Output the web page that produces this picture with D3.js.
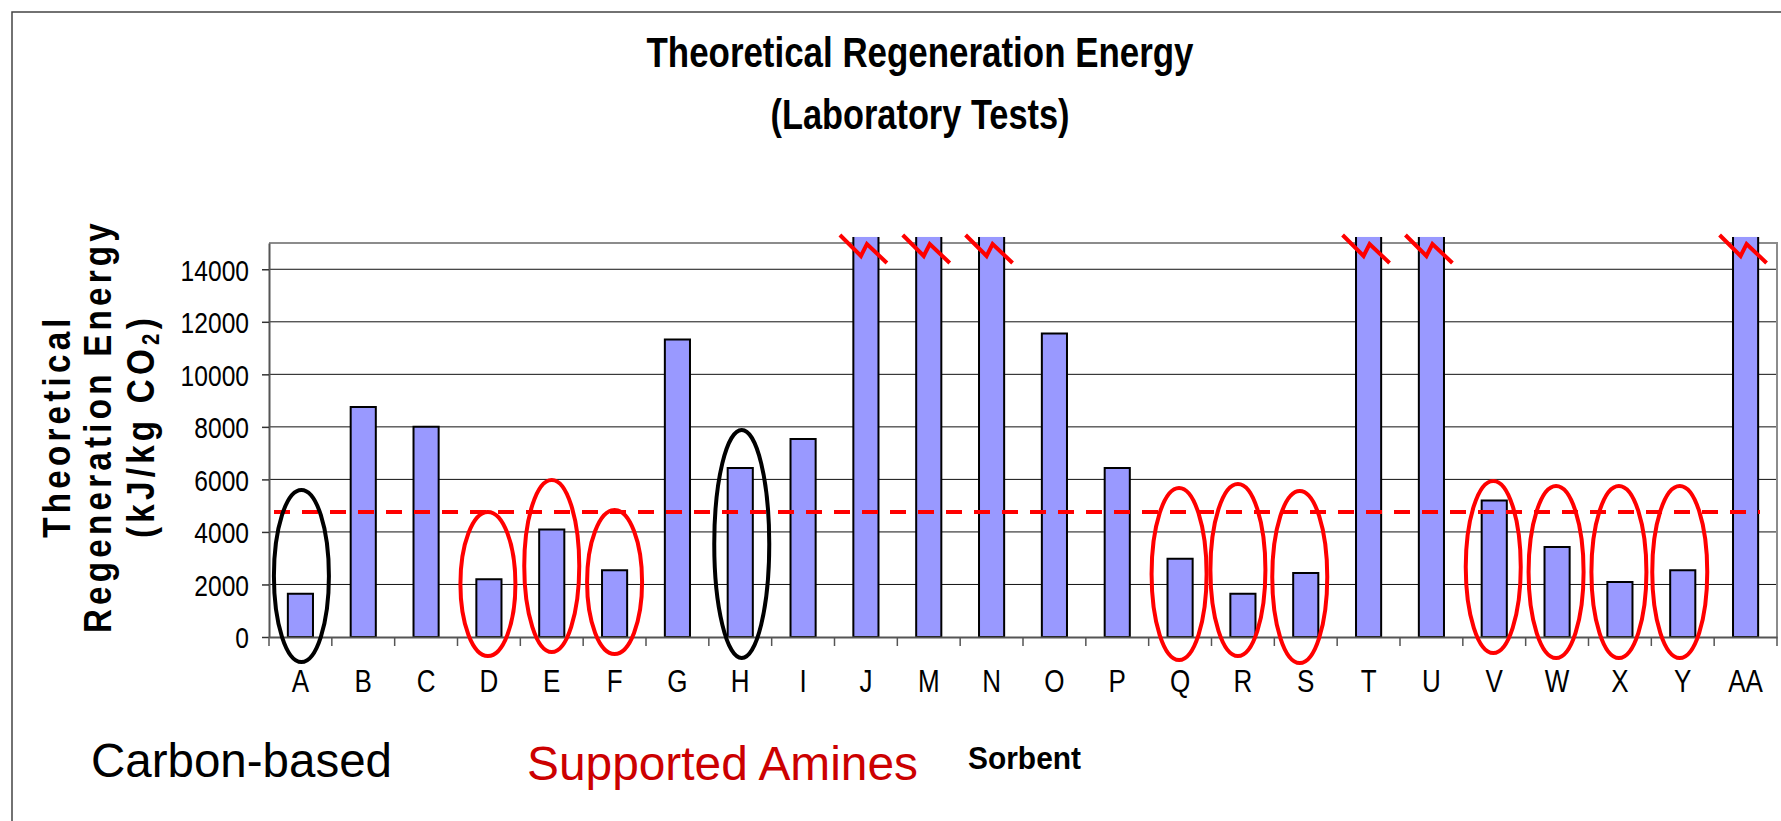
<!DOCTYPE html>
<html>
<head>
<meta charset="utf-8">
<script src="https://cdn.jsdelivr.net/npm/d3@7"></script>
<style>
  body { margin: 0; background: #fff; }
  svg { display: block; font-family: "Liberation Sans", Arial, sans-serif; }
</style>
</head>
<body>
<script>
// Theoretical regeneration energy per sorbent (kJ/kg CO2), laboratory tests
var categories = ['A', 'B', 'C', 'D', 'E', 'F', 'G', 'H', 'I', 'J', 'M', 'N',
                  'O', 'P', 'Q', 'R', 'S', 'T', 'U', 'V', 'W', 'X', 'Y', 'AA'];
// off-scale bars (J, M, N, T, U, AA) are drawn just past the top and cut with a break mark
var energy = [1650, 8760, 8000, 2200, 4090, 2540, 11330, 6430, 7540, 15230, 15230, 15230,
              11550, 6430, 2980, 1650, 2440, 15230, 15230, 5200, 3430, 2090, 2540, 15230];
var brokenBars = ['J', 'M', 'N', 'T', 'U', 'AA'];
var yTicks = [0, 2000, 4000, 6000, 8000, 10000, 12000, 14000];
var yMax = 15000;
var referenceLevel = 4760;
var carbonBased = ['A', 'H'];
var supportedAmines = ['D', 'E', 'F', 'Q', 'R', 'S', 'V', 'W', 'X', 'Y'];

var w = 1781;
var h = 821;
var plot = {left: 269, right: 1777, top: 243, bottom: 637};
var narrow = 0.85;

var svg = d3.select('body')
            .append('svg')
            .attr('width', w)
            .attr('height', h);

// outer frame (only top and left edges show)
svg.append('rect')
   .attr('x', 12).attr('y', 12)
   .attr('width', w).attr('height', h)
   .attr('fill', 'none')
   .attr('stroke', '#444')
   .attr('stroke-width', 1.5);

var x = d3.scaleBand()
          .domain(categories)
          .range([plot.left, plot.right])
          .paddingInner(0.6)
          .paddingOuter(0.3);
var y = d3.scaleLinear()
          .domain([0, yMax])
          .range([plot.bottom, plot.top]);

// gridlines
svg.append('g')
   .selectAll('line')
   .data(yTicks.slice(1))
   .enter()
   .append('line')
   .attr('x1', plot.left).attr('x2', plot.right)
   .attr('y1', function(d) { return y(d); })
   .attr('y2', function(d) { return y(d); })
   .attr('stroke', '#111')
   .attr('stroke-width', 1);

// top and right plot border
svg.append('path')
   .attr('d', 'M' + plot.left + ',' + y(yMax) + 'H' + plot.right + 'V' + plot.bottom)
   .attr('fill', 'none')
   .attr('stroke', '#8c8c8c')
   .attr('stroke-width', 2);

// bars: fill, then outline (broken bars have an open top)
var bars = svg.append('g')
   .selectAll('g')
   .data(categories)
   .enter()
   .append('g');
bars.append('rect')
   .attr('x', function(d) { return x(d); })
   .attr('y', function(d, i) { return y(energy[i]); })
   .attr('width', x.bandwidth())
   .attr('height', function(d, i) { return y(0) - y(energy[i]); })
   .attr('fill', '#9999ff');
bars.append('path')
   .attr('d', function(d, i) {
        var x0 = x(d), x1 = x(d) + x.bandwidth(), top = y(energy[i]), base = y(0);
        if (brokenBars.indexOf(d) >= 0) {
            return 'M' + x0 + ',' + top + 'V' + base + 'H' + x1 + 'V' + top;
        }
        return 'M' + x0 + ',' + base + 'V' + top + 'H' + x1 + 'V' + base + 'Z';
   })
   .attr('fill', 'none')
   .attr('stroke', '#000')
   .attr('stroke-width', 2);

// dashed reference level
svg.append('line')
   .attr('x1', plot.left + 5).attr('x2', plot.right - 17)
   .attr('y1', y(referenceLevel)).attr('y2', y(referenceLevel))
   .attr('stroke', '#ff0000')
   .attr('stroke-width', 4)
   .attr('stroke-dasharray', '16,12');

// y axis
var yAxis = svg.append('g')
   .attr('transform', 'translate(' + plot.left + ',0)')
   .call(d3.axisLeft(y).tickValues(yTicks).tickFormat(d3.format('d')).tickSize(7).tickSizeOuter(0));
yAxis.select('.domain').attr('stroke', '#555').attr('stroke-width', 2);
yAxis.selectAll('.tick line').attr('stroke', '#333').attr('stroke-width', 1.5);
yAxis.selectAll('.tick text')
     .attr('x', -20 / 0.82)
     .attr('dy', '0.36em')
     .attr('transform', 'scale(0.82,1)')
     .attr('fill', '#000')
     .style('font-size', '30px');

// x axis: labels centred on bars, ticks on category boundaries
var xAxis = svg.append('g')
   .attr('transform', 'translate(0,' + plot.bottom + ')')
   .call(d3.axisBottom(x).tickSize(0).tickSizeOuter(0));
xAxis.select('.domain').attr('stroke', '#555').attr('stroke-width', 2);
xAxis.selectAll('.tick text')
     .attr('y', 55)
     .attr('dy', null)
     .attr('transform', 'scale(0.84,1)')
     .attr('fill', '#000')
     .style('font-size', '31px');
xAxis.selectAll('.boundary')
     .data(d3.range(categories.length + 1))
     .enter()
     .append('line')
     .attr('class', 'boundary')
     .attr('x1', function(i) { return plot.left + i * x.step(); })
     .attr('x2', function(i) { return plot.left + i * x.step(); })
     .attr('y1', 0).attr('y2', 9)
     .attr('stroke', '#555')
     .attr('stroke-width', 1.5);

// break marks on off-scale bars
var brk = d3.line();
svg.append('g')
   .selectAll('path')
   .data(brokenBars)
   .enter()
   .append('path')
   .attr('d', function(d) {
        var cx = x(d) + x.bandwidth() / 2;
        var t = y(yMax);
        return brk([[cx - 26, t - 8], [cx - 5, t + 13], [cx + 1, t + 1], [cx + 21, t + 20]]);
   })
   .attr('fill', 'none')
   .attr('stroke', '#ff0000')
   .attr('stroke-width', 4);

// group rings: per-ring vertical centre, half-height and small horizontal nudge
var ringShape = {
    A: [576, 86, 1], H: [544, 114, 1.5],
    D: [584, 72, -1], E: [566, 86, 0], F: [582, 72, 0],
    Q: [574, 86, -1], R: [570, 86, -5], S: [577, 86, -6],
    V: [567, 86, -1], W: [572, 86, -1], X: [572, 86, -1], Y: [572, 86, -3]
};
var rings = carbonBased.map(function(c) { return {cat: c, color: '#000'}; })
    .concat(supportedAmines.map(function(c) { return {cat: c, color: '#ff0000'}; }));
svg.append('g')
   .selectAll('ellipse')
   .data(rings)
   .enter()
   .append('ellipse')
   .attr('cx', function(d) { return x(d.cat) + x.bandwidth() / 2 + ringShape[d.cat][2]; })
   .attr('cy', function(d) { return ringShape[d.cat][0]; })
   .attr('rx', 27.5)
   .attr('ry', function(d) { return ringShape[d.cat][1]; })
   .attr('fill', 'none')
   .attr('stroke', function(d) { return d.color; })
   .attr('stroke-width', 4);

// title
var titleLines = [['Theoretical Regeneration Energy', 67, 547], ['(Laboratory Tests)', 129, 299]];
svg.selectAll('.title')
   .data(titleLines)
   .enter()
   .append('text')
   .attr('class', 'title')
   .attr('x', 920)
   .attr('y', function(d) { return d[1]; })
   .attr('text-anchor', 'middle')
   .attr('textLength', function(d) { return d[2]; })
   .attr('lengthAdjust', 'spacingAndGlyphs')
   .style('font-size', '42px')
   .style('font-weight', 'bold')
   .text(function(d) { return d[0]; });

// y axis title, three rotated lines
var yTitle = [['Theoretical', 70], ['Regeneration Energy', 111], ['(kJ/kg CO', 154]];
var yt = svg.selectAll('.ytitle')
   .data(yTitle)
   .enter()
   .append('text')
   .attr('class', 'ytitle')
   .attr('transform', function(d) {
        return 'translate(' + d[1] + ',426) rotate(-90) scale(' + narrow + ',1)';
   })
   .attr('text-anchor', 'middle')
   .style('font-size', '39px')
   .style('font-weight', 'bold')
   .style('letter-spacing', '5px')
   .text(function(d) { return d[0]; });
yt.filter(function(d, i) { return i === 2; })
  .append('tspan').attr('dy', 5).style('font-size', '24px').text('2');
yt.filter(function(d, i) { return i === 2; })
  .append('tspan').attr('dy', -5).text(')');

// bottom labels
svg.append('text')
   .attr('x', 91).attr('y', 777)
   .attr('textLength', 301).attr('lengthAdjust', 'spacingAndGlyphs')
   .style('font-size', '48px')
   .text('Carbon-based');
svg.append('text')
   .attr('x', 527).attr('y', 780)
   .attr('textLength', 391).attr('lengthAdjust', 'spacingAndGlyphs')
   .style('font-size', '48px')
   .attr('fill', '#cc0000')
   .text('Supported Amines');
svg.append('text')
   .attr('x', 968).attr('y', 769)
   .attr('textLength', 113).attr('lengthAdjust', 'spacingAndGlyphs')
   .style('font-size', '31px')
   .style('font-weight', 'bold')
   .text('Sorbent');
</script>
</body>
</html>
